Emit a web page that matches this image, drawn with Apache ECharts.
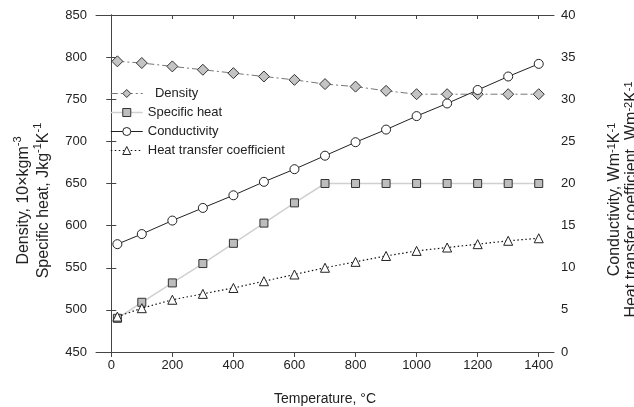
<!DOCTYPE html>
<html>
<head>
<meta charset="utf-8">
<script src="https://cdn.jsdelivr.net/npm/echarts@6/dist/echarts.min.js"></script>
<style>
html,body{margin:0;padding:0;background:#fff;}
#chart{width:634px;height:407px;}
</style>
</head>
<body>
<div id="chart"></div>
<script>
var temperatures = [20, 100, 200, 300, 400, 500, 600, 700, 800, 900, 1000, 1100, 1200, 1300, 1400];
var density = [795, 793, 789, 785, 781, 777, 773, 768, 765, 760, 756, 756, 756, 756, 756];
var specificHeat = [490, 509, 532, 555, 579, 603, 627, 650, 650, 650, 650, 650, 650, 650, 650];
var conductivity = [12.8, 14.0, 15.6, 17.1, 18.6, 20.2, 21.7, 23.3, 24.9, 26.4, 28.0, 29.5, 31.1, 32.7, 34.2];
var heatTransfer = [4.2, 5.2, 6.2, 6.9, 7.6, 8.4, 9.2, 10.0, 10.7, 11.4, 12.0, 12.4, 12.8, 13.2, 13.5];
var xTicks = [0, 200, 400, 600, 800, 1000, 1200, 1400];
var seriesNames = ['Density', 'Specific heat', 'Conductivity', 'Heat transfer coefficient'];

function pairs(ys) { return temperatures.map(function (t, i) { return [t, ys[i]]; }); }

var FONT = '"Liberation Sans", Arial, sans-serif';
var AX = '#444';
function rich(lh) {
  return {
    t: { fontSize: 16, fontFamily: FONT, color: '#222', lineHeight: lh, verticalAlign: 'bottom' },
    s: { fontSize: 11, fontFamily: FONT, color: '#222', lineHeight: lh, verticalAlign: 'top', padding: [0, 0, 7, 0] }
  };
}
function plain(v) { return String(v); }

var styles = [
  { line: { color: '#777', width: 1, type: [7, 3, 2, 3] }, item: { color: '#c4c4c4', borderColor: '#333', borderWidth: 1 } },
  { line: { color: '#d0d0d0', width: 1.5, type: 'solid' }, item: { color: '#bdbdbd', borderColor: '#333', borderWidth: 1 } },
  { line: { color: '#222', width: 1, type: 'solid' }, item: { color: '#fff', borderColor: '#222', borderWidth: 1 } },
  { line: { color: '#111', width: 1.2, type: [1.5, 2.5] }, item: { color: '#fff', borderColor: '#222', borderWidth: 1 } }
];

var chart = echarts.init(document.getElementById('chart'), null, { renderer: 'canvas' });
chart.setOption({
  backgroundColor: '#fff',
  animation: false,
  grid: { left: 96, right: 80, top: 15, bottom: 55, containLabel: false, outerBoundsMode: 'none' },
  legend: {
    orient: 'vertical', left: 105, top: 82, itemWidth: 32, itemHeight: 10, itemGap: 6,
    data: seriesNames.map(function (n, i) {
      return { name: n, itemStyle: styles[i].item, lineStyle: styles[i].line };
    }),
    textStyle: { fontSize: 13, fontFamily: FONT, color: '#222' },
    formatter: function (n) { return n === 'Density' ? '  ' + n : n; }
  },
  xAxis: [{
    type: 'value', min: -50, max: 1450, position: 'bottom',
    name: 'Temperature, °C', nameLocation: 'middle', nameGap: 40,
    nameTextStyle: { fontSize: 14, fontFamily: FONT, color: '#222' },
    axisLine: { show: true, lineStyle: { color: AX, width: 1 } },
    axisTick: { show: true, inside: false, length: 5, customValues: xTicks, lineStyle: { color: AX } },
    axisLabel: { customValues: xTicks, formatter: plain, fontSize: 13, fontFamily: FONT, color: '#222', margin: 7 },
    splitLine: { show: false }
  }, {
    type: 'value', min: -50, max: 1450, position: 'top',
    axisLine: { show: true, lineStyle: { color: AX, width: 1 } },
    axisTick: { show: true, inside: true, length: 4, customValues: xTicks, lineStyle: { color: AX } },
    axisLabel: { show: false },
    splitLine: { show: false }
  }],
  yAxis: [{
    type: 'value', min: 450, max: 850, interval: 50, position: 'left',
    name: '{t|Density, 10×kgm}{s|-3}\n{t|Specific heat, Jkg}{s|-1}{t|K}{s|-1}',
    nameLocation: 'middle', nameRotate: 90, nameGap: 44,
    nameTextStyle: { rich: rich(20), align: 'center', padding: [0, 34, 0, 0] },
    axisLine: { show: true, lineStyle: { color: AX, width: 1 } },
    axisTick: { show: true, inside: false, length: 5, lineStyle: { color: AX } },
    axisLabel: { formatter: plain, fontSize: 13, fontFamily: FONT, color: '#222', margin: 9 },
    splitLine: { show: false }
  }, {
    type: 'value', min: 0, max: 40, interval: 5, position: 'right',
    name: '{t|Conductivity, Wm}{s|-1}{t|K}{s|-1}\n{t|Heat transfer coefficient, Wm}{s|-2}{t|K}{s|-1}',
    nameLocation: 'middle', nameRotate: 90, nameGap: 52,
    nameTextStyle: { rich: rich(17), align: 'center', padding: [0, 32, 0, 0] },
    axisLine: { show: true, lineStyle: { color: AX, width: 1 } },
    axisTick: { show: true, inside: false, length: 5, lineStyle: { color: AX } },
    axisLabel: { formatter: plain, fontSize: 13, fontFamily: FONT, color: '#222', margin: 7 },
    splitLine: { show: false }
  }],
  series: [{
    name: seriesNames[0], type: 'line', xAxisIndex: 0, yAxisIndex: 0, data: pairs(density),
    symbol: 'diamond', symbolSize: 11, showAllSymbol: true,
    lineStyle: styles[0].line, itemStyle: styles[0].item, z: 3
  }, {
    name: seriesNames[1], type: 'line', xAxisIndex: 0, yAxisIndex: 0, data: pairs(specificHeat),
    symbol: 'rect', symbolSize: 8, showAllSymbol: true,
    lineStyle: styles[1].line, itemStyle: styles[1].item, z: 2
  }, {
    name: seriesNames[2], type: 'line', xAxisIndex: 0, yAxisIndex: 1, data: pairs(conductivity),
    symbol: 'circle', symbolSize: 9, showAllSymbol: true,
    lineStyle: styles[2].line, itemStyle: styles[2].item, z: 4
  }, {
    name: seriesNames[3], type: 'line', xAxisIndex: 0, yAxisIndex: 1, data: pairs(heatTransfer),
    symbol: 'triangle', symbolSize: 9, showAllSymbol: true,
    lineStyle: styles[3].line, itemStyle: styles[3].item, z: 3
  }]
});
</script>
</body>
</html>
